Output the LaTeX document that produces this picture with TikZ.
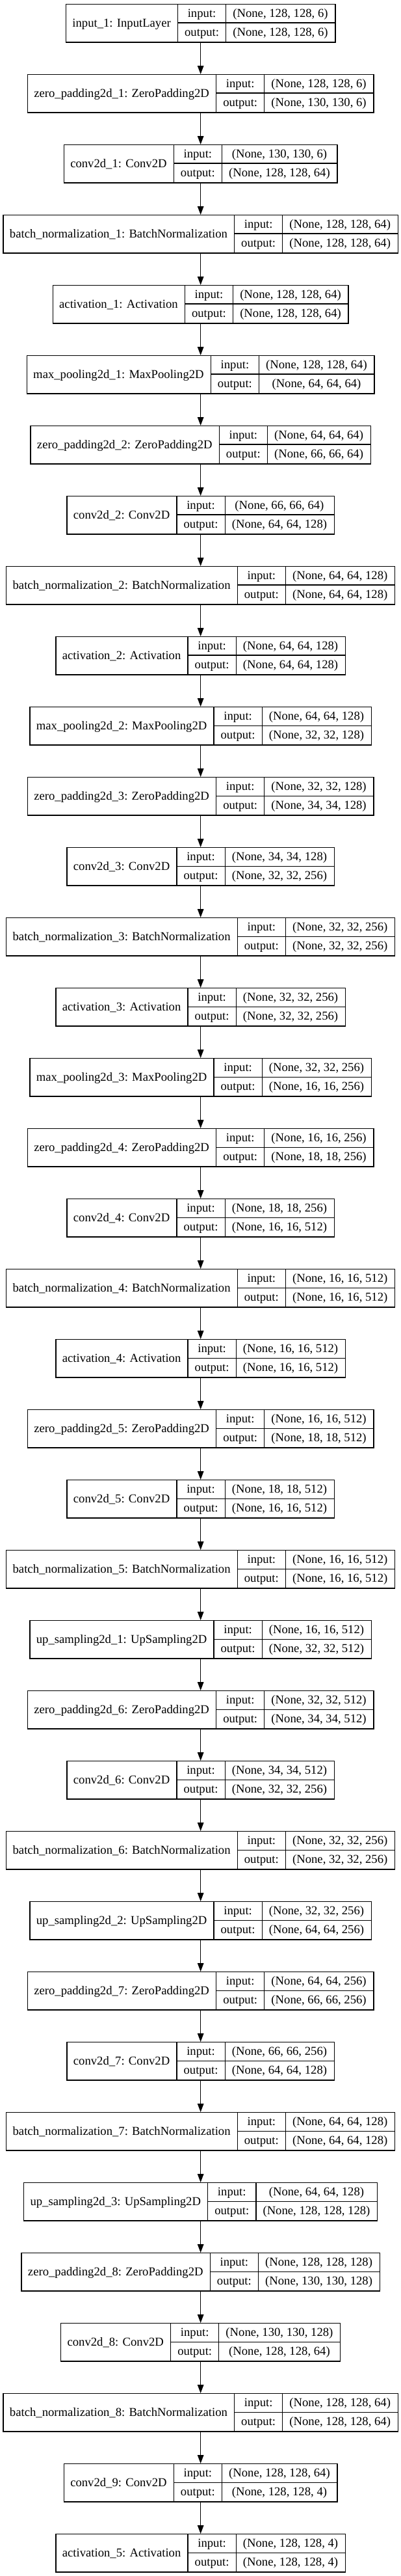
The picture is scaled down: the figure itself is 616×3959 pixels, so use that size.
\documentclass[tikz,border=0pt]{standalone}
\usepackage{fontspec}
\setmainfont{Liberation Serif}
\usetikzlibrary{arrows.meta}
\newcommand\lf{\fontsize{18.67}{22}\selectfont}
\newlength\wlab \newlength\wout \newlength\win \newlength\wval
\tikzset{
  boxln/.style={draw=black, line width=1.33pt},
  txt/.style={inner sep=0pt, anchor=base, font=\lf},
  edge/.style={draw=black, line width=1.33pt, -{Triangle[length=13pt,width=9.5pt]}},
}
% measure and store (outside the picture)
\newcommand\deflayer[4]{%
  \settowidth\wlab{\lf #2}%
  \settowidth\win{\lf #3}%
  \settowidth\wval{\lf #4}%
  \ifdim\win>\wval \wval=\win\fi
  \settowidth\wout{\lf output:}%
  \expandafter\xdef\csname LA#1\endcsname{\strip@pt\wlab}%
  \expandafter\xdef\csname LB#1\endcsname{\strip@pt\wout}%
  \expandafter\xdef\csname LC#1\endcsname{\strip@pt\wval}%
  \expandafter\gdef\csname LT#1\endcsname{#2}%
  \expandafter\gdef\csname LI#1\endcsname{#3}%
  \expandafter\gdef\csname LO#1\endcsname{#4}%
}
\makeatletter
\renewcommand\deflayer[4]{%
  \settowidth\wlab{\lf #2}%
  \settowidth\win{\lf #3}%
  \settowidth\wval{\lf #4}%
  \ifdim\win>\wval \wval=\win\fi
  \settowidth\wout{\lf output:}%
  \expandafter\xdef\csname LA#1\endcsname{\strip@pt\wlab}%
  \expandafter\xdef\csname LB#1\endcsname{\strip@pt\wout}%
  \expandafter\xdef\csname LC#1\endcsname{\strip@pt\wval}%
  \expandafter\gdef\csname LT#1\endcsname{#2}%
  \expandafter\gdef\csname LI#1\endcsname{#3}%
  \expandafter\gdef\csname LO#1\endcsname{#4}%
}
\makeatother
\newcommand\drawlayer[1]{%
  \pgfmathsetmacro\A{\csname LA#1\endcsname+21.33}%
  \pgfmathsetmacro\B{\csname LB#1\endcsname+21.33}%
  \pgfmathsetmacro\C{\csname LC#1\endcsname+21.33}%
  \pgfmathsetmacro\W{\A+\B+\C}%
  \pgfmathsetmacro\X{308-\W/2}%
  \pgfmathsetmacro\Y{-(6+108*#1)}%
  \pgfmathsetmacro\Yb{\Y-58.3}%
  \pgfmathsetmacro\Ym{\Y-29.15}%
  \pgfmathsetmacro\xa{\X+\A}%
  \pgfmathsetmacro\xb{\X+\A+\B}%
  \pgfmathsetmacro\xc{\X+\W}%
  \node[boxln, minimum width=\W pt, minimum height=58.3pt, inner sep=0pt, anchor=north west] (L#1) at (\X pt,\Y pt) {};
  \draw[boxln] (\xa pt,\Y pt) -- (\xa pt,\Yb pt);
  \draw[boxln] (\xb pt,\Y pt) -- (\xb pt,\Yb pt);
  \draw[boxln] (\xa pt,\Ym pt) -- (\xc pt,\Ym pt);
  \node[txt] (L#1lab) at ({\X+\A/2},{\Ym-6.3}) {\csname LT#1\endcsname};
  \node[txt] (L#1ik) at ({\xa+\B/2},{\Y-14.575-6}) {input:};
  \node[txt] (L#1ok) at ({\xa+\B/2},{\Ym-14.575-6}) {output:};
  \node[txt] (L#1iv) at ({\xb+\C/2},{\Y-14.575-6}) {\csname LI#1\endcsname};
  \node[txt] (L#1ov) at ({\xb+\C/2},{\Ym-14.575-6}) {\csname LO#1\endcsname};
}
\begin{document}
\deflayer{0}{input\_1: InputLayer}{(None, 128, 128, 6)}{(None, 128, 128, 6)}
\deflayer{1}{zero\_padding2d\_1: ZeroPadding2D}{(None, 128, 128, 6)}{(None, 130, 130, 6)}
\deflayer{2}{conv2d\_1: Conv2D}{(None, 130, 130, 6)}{(None, 128, 128, 64)}
\deflayer{3}{batch\_normalization\_1: BatchNormalization}{(None, 128, 128, 64)}{(None, 128, 128, 64)}
\deflayer{4}{activation\_1: Activation}{(None, 128, 128, 64)}{(None, 128, 128, 64)}
\deflayer{5}{max\_pooling2d\_1: MaxPooling2D}{(None, 128, 128, 64)}{(None, 64, 64, 64)}
\deflayer{6}{zero\_padding2d\_2: ZeroPadding2D}{(None, 64, 64, 64)}{(None, 66, 66, 64)}
\deflayer{7}{conv2d\_2: Conv2D}{(None, 66, 66, 64)}{(None, 64, 64, 128)}
\deflayer{8}{batch\_normalization\_2: BatchNormalization}{(None, 64, 64, 128)}{(None, 64, 64, 128)}
\deflayer{9}{activation\_2: Activation}{(None, 64, 64, 128)}{(None, 64, 64, 128)}
\deflayer{10}{max\_pooling2d\_2: MaxPooling2D}{(None, 64, 64, 128)}{(None, 32, 32, 128)}
\deflayer{11}{zero\_padding2d\_3: ZeroPadding2D}{(None, 32, 32, 128)}{(None, 34, 34, 128)}
\deflayer{12}{conv2d\_3: Conv2D}{(None, 34, 34, 128)}{(None, 32, 32, 256)}
\deflayer{13}{batch\_normalization\_3: BatchNormalization}{(None, 32, 32, 256)}{(None, 32, 32, 256)}
\deflayer{14}{activation\_3: Activation}{(None, 32, 32, 256)}{(None, 32, 32, 256)}
\deflayer{15}{max\_pooling2d\_3: MaxPooling2D}{(None, 32, 32, 256)}{(None, 16, 16, 256)}
\deflayer{16}{zero\_padding2d\_4: ZeroPadding2D}{(None, 16, 16, 256)}{(None, 18, 18, 256)}
\deflayer{17}{conv2d\_4: Conv2D}{(None, 18, 18, 256)}{(None, 16, 16, 512)}
\deflayer{18}{batch\_normalization\_4: BatchNormalization}{(None, 16, 16, 512)}{(None, 16, 16, 512)}
\deflayer{19}{activation\_4: Activation}{(None, 16, 16, 512)}{(None, 16, 16, 512)}
\deflayer{20}{zero\_padding2d\_5: ZeroPadding2D}{(None, 16, 16, 512)}{(None, 18, 18, 512)}
\deflayer{21}{conv2d\_5: Conv2D}{(None, 18, 18, 512)}{(None, 16, 16, 512)}
\deflayer{22}{batch\_normalization\_5: BatchNormalization}{(None, 16, 16, 512)}{(None, 16, 16, 512)}
\deflayer{23}{up\_sampling2d\_1: UpSampling2D}{(None, 16, 16, 512)}{(None, 32, 32, 512)}
\deflayer{24}{zero\_padding2d\_6: ZeroPadding2D}{(None, 32, 32, 512)}{(None, 34, 34, 512)}
\deflayer{25}{conv2d\_6: Conv2D}{(None, 34, 34, 512)}{(None, 32, 32, 256)}
\deflayer{26}{batch\_normalization\_6: BatchNormalization}{(None, 32, 32, 256)}{(None, 32, 32, 256)}
\deflayer{27}{up\_sampling2d\_2: UpSampling2D}{(None, 32, 32, 256)}{(None, 64, 64, 256)}
\deflayer{28}{zero\_padding2d\_7: ZeroPadding2D}{(None, 64, 64, 256)}{(None, 66, 66, 256)}
\deflayer{29}{conv2d\_7: Conv2D}{(None, 66, 66, 256)}{(None, 64, 64, 128)}
\deflayer{30}{batch\_normalization\_7: BatchNormalization}{(None, 64, 64, 128)}{(None, 64, 64, 128)}
\deflayer{31}{up\_sampling2d\_3: UpSampling2D}{(None, 64, 64, 128)}{(None, 128, 128, 128)}
\deflayer{32}{zero\_padding2d\_8: ZeroPadding2D}{(None, 128, 128, 128)}{(None, 130, 130, 128)}
\deflayer{33}{conv2d\_8: Conv2D}{(None, 130, 130, 128)}{(None, 128, 128, 64)}
\deflayer{34}{batch\_normalization\_8: BatchNormalization}{(None, 128, 128, 64)}{(None, 128, 128, 64)}
\deflayer{35}{conv2d\_9: Conv2D}{(None, 128, 128, 64)}{(None, 128, 128, 4)}
\deflayer{36}{activation\_5: Activation}{(None, 128, 128, 4)}{(None, 128, 128, 4)}%
\begin{tikzpicture}[x=1pt,y=1pt]
\fill[white] (0,0) rectangle (616,-3959);
\useasboundingbox (0,0) rectangle (616,-3959);
\foreach \i in {0,...,36}{\drawlayer{\i}}
\foreach \i [evaluate=\i as \j using int(\i+1)] in {0,...,35}{
  \draw[edge] (L\i.south) -- (L\j.north);
}
\end{tikzpicture}
\end{document}
